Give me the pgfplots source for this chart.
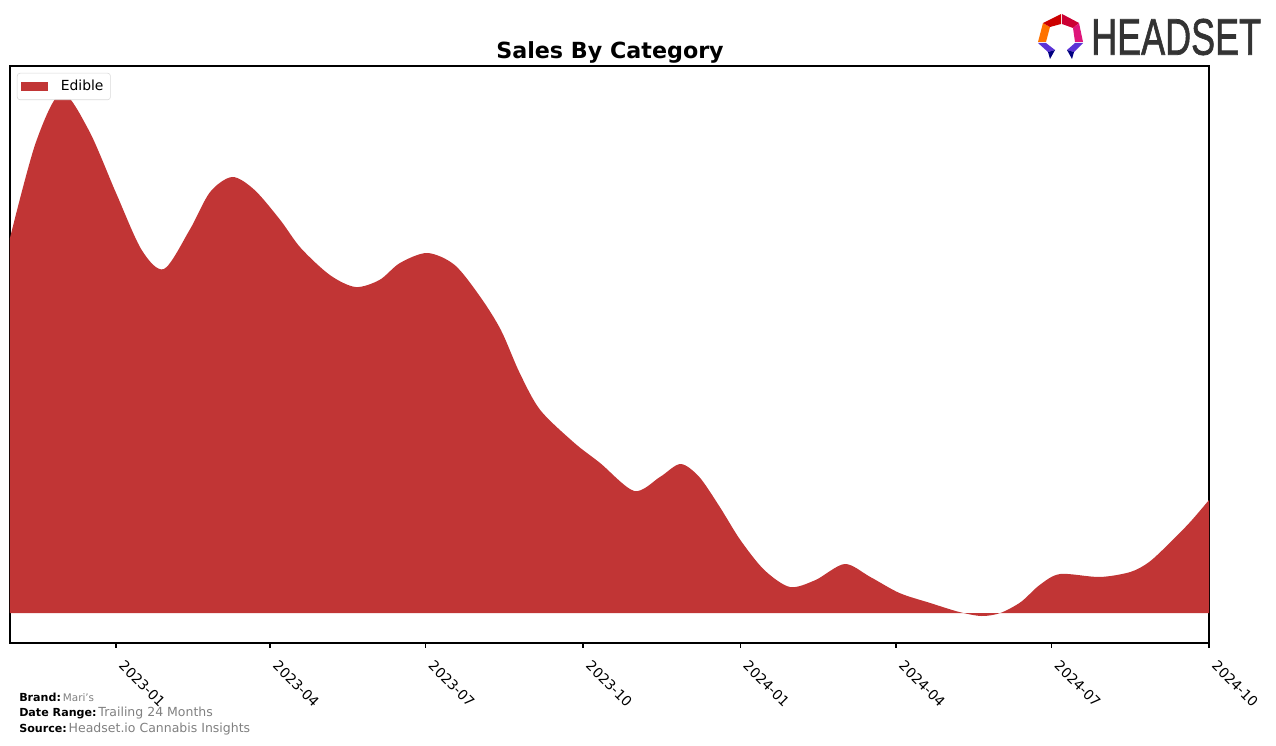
\documentclass[border=0pt]{standalone}
\usepackage{pgfplots}
\pgfplotsset{compat=1.18}
\usepackage{fontspec}
\setmainfont{DejaVu Sans}
\newfontfamily\logofont[BoldFont=Liberation Sans, BoldFeatures={FakeBold=1.5}]{Liberation Sans}
\definecolor{edible}{RGB}{193,53,53}
\definecolor{footgray}{RGB}{128,128,128}
\definecolor{logogray}{RGB}{51,51,51}
\begin{document}
\begin{tikzpicture}
\useasboundingbox (0pt,0pt) rectangle (918.72pt,536.4pt);
\begin{axis}[
  at={(7.2pt,73.44pt)}, anchor=south west,
  scale only axis, width=863.28pt, height=415.44pt,
  xmin=-62, xmax=639, ymin=-30, ymax=547,
  axis line style={line width=0.8pt},
  tick style={line width=0.8pt, black},
  major tick length=3.5pt,
  tick align=outside,
  xtick pos=bottom,
  ytick=\empty,
  xtick={0,90,181,273,365,456,547,639},
  xticklabels={2023-01,2023-04,2023-07,2023-10,2024-01,2024-04,2024-07,2024-10},
  xticklabel style={rotate=-45, anchor=north west, font=\fontsize{10}{12}\selectfont, inner sep=1pt, xshift=9.5pt, yshift=0pt},
  legend style={at={(0,1)}, anchor=north west, xshift=5pt, yshift=-5pt,
    draw=black!15, rounded corners=2pt, font=\fontsize{10}{12}\selectfont,
    inner xsep=3pt, inner ysep=3pt},
  legend cell align=left,
  legend image code/.code={\fill[edible, sharp corners] (0pt,-3.2pt) rectangle (19.4pt,3.2pt);},
]
\addplot[draw=none, fill=edible, smooth, tension=0.5] coordinates {
(-62,375) (-47,470) (-32,520) (-16,483) (0,420) (15,363) (28,344) (43,383)
(55,421) (68,436) (81,423) (96,393) (108,365) (125,338) (140,326) (154,333)
(166,350) (182,360) (198,348) (213,316) (225,283) (236,240) (248,203)
(268,170) (283,150) (303,122) (318,136) (330,149) (341,136) (353,106)
(365,73) (379,43) (394,26) (409,33) (426,49) (441,36) (458,20) (476,10)
(493,1) (506,-3) (517,0) (529,11) (540,28) (552,39) (575,36)
(593,41) (604,51) (616,70) (628,91) (639,113)
} \closedcycle;
\addlegendentry{\hspace*{7pt}Edible}
\end{axis}
\begin{scope}[shift={(0pt,536.4pt)}, x=0.72pt, y=-0.72pt]
\node[font=\fontsize{16}{19}\selectfont\bfseries] at (610,52) {Sales By Category};
% footer
\node[anchor=west, inner sep=0pt] at (19,697) {\fontsize{8}{10}\selectfont\bfseries Brand:\,\fontsize{7.5}{9}\mdseries\color{footgray}Mari's};
\node[anchor=west, inner sep=0pt] at (19,713) {\fontsize{8}{10}\selectfont\bfseries Date Range:\,\fontsize{9}{11}\mdseries\color{footgray} Trailing 24 Months};
\node[anchor=west, inner sep=0pt] at (19,729) {\fontsize{8}{10}\selectfont\bfseries Source:\,\fontsize{9}{11}\mdseries\color{footgray} Headset.io Cannabis Insights};
% logo
\fill[orange!90!red] (1043,23) -- (1050,27) -- (1046,42) -- (1038,42) -- cycle;
\fill[red!80!black] (1043,23) -- (1061,14) -- (1061,24) -- (1050,27) -- cycle;
\fill[purple!80!red] (1062,14) -- (1079,23) -- (1073,28) -- (1062,24) -- cycle;
\fill[magenta!70!purple] (1079,23) -- (1083,42) -- (1075,42) -- (1073,28) -- cycle;
\fill[blue!60!violet!80] (1038,43) -- (1046,43) -- (1055,50) -- (1048,52) -- cycle;
\fill[blue!50!black] (1048,52) -- (1055,50) -- (1050,59) -- cycle;
\fill[blue!60!violet!80] (1083,43) -- (1075,43) -- (1067,50) -- (1074,52) -- cycle;
\fill[blue!50!black] (1074,52) -- (1067,50) -- (1072,59) -- cycle;
\node[anchor=west, inner sep=0pt, text=logogray, xscale=0.7] at (1091,37) {\logofont\bfseries\fontsize{37}{40}\selectfont HEADSET};
\end{scope}
\end{tikzpicture}
\end{document}
